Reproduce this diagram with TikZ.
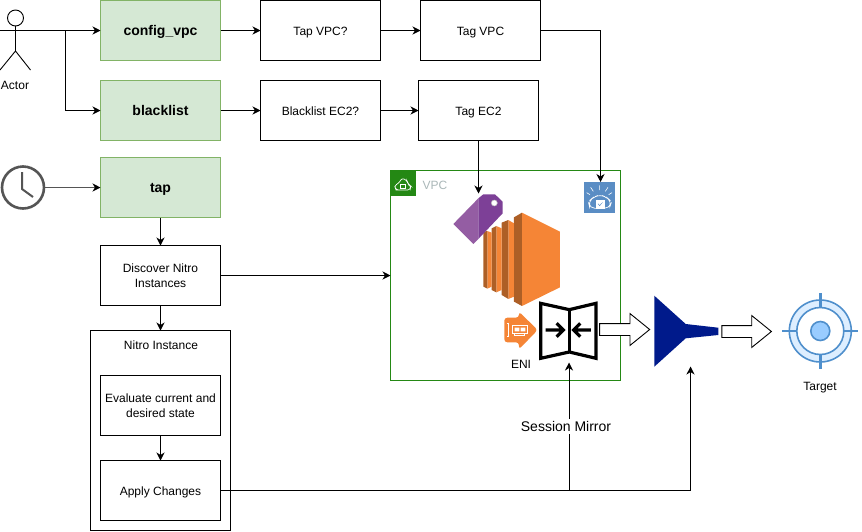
\documentclass[tikz,border=0pt]{standalone}
\usepackage{fontspec}
\setmainfont{Liberation Sans}
\usepackage{xcolor}
\usetikzlibrary{arrows.meta,positioning,shapes.arrows}
\definecolor{Leaf}{HTML}{D5E8D4}
\definecolor{LeafLine}{HTML}{82B366}
\definecolor{VpcGreen}{HTML}{248814}
\definecolor{VpcGray}{HTML}{AAB7B8}
\definecolor{Ec2Light}{HTML}{F58536}
\definecolor{Ec2Dark}{HTML}{AD5F26}
\definecolor{TagLight}{HTML}{945DA3}
\definecolor{TagDark}{HTML}{7D4097}
\definecolor{LockBlue}{HTML}{5A8DC4}
\definecolor{Navy}{HTML}{001A8B}
\definecolor{RingLine}{HTML}{4F8FCC}
\definecolor{RingFill}{HTML}{DDEEFF}
\definecolor{RingCore}{HTML}{99CCFF}
\definecolor{ClockGray}{HTML}{555555}

\begin{document}
\begin{tikzpicture}[
  x=1pt,y=-1pt,
  node distance=20pt and 40pt,
  every node/.style={font=\fontsize{12}{15}\selectfont},
  lambda/.style={draw=LeafLine,line width=0.9pt,fill=Leaf,minimum width=120pt,minimum height=60pt,outer sep=0pt,
    text height=13pt,text depth=2.6pt,font=\fontsize{14}{17}\selectfont\bfseries},
  action/.style={draw=black,line width=0.9pt,fill=white,minimum width=120pt,minimum height=60pt,outer sep=0pt,align=center},
  oneline/.style={action,text height=11.4pt,text depth=2.4pt},
  spot/.style={inner sep=0pt,outer sep=0pt},
  arrow/.style={-{Stealth[length=8pt,width=8pt,inset=2.5pt]},draw=black,line width=0.9pt},
  hollow/.style={single arrow,draw=black,line width=0.9pt,fill=white,inner sep=5.5pt,outer sep=0pt,
    single arrow head extend=10pt,single arrow tip angle=78}
]
\useasboundingbox (0,0) rectangle (862,531);
% boxes
\node[lambda] at (160.5,30.5) (config_vpc) {config\_vpc};
\node[lambda] at (160.5,110.5) (blacklist) {blacklist};
\node[lambda] at (160.5,187.5) (tap) {tap};
\node[oneline,right=of config_vpc] (tap_vpc) {Tap VPC?};
\node[oneline,right=of tap_vpc] (tag_vpc) {Tag VPC};
\node[oneline,right=of blacklist] (blacklist_ec2) {Blacklist EC2?};
\node[oneline,right=38pt of blacklist_ec2] (tag_ec2) {Tag EC2};
\node[action,below=28pt of tap] (discover) {Discover Nitro\\Instances};
\node[draw=black,line width=0.9pt,fill=white,minimum width=140pt,minimum height=200pt,outer sep=0pt] at (160.5,430.5) (nitro) {};
\node[spot] at (161,345) (nitro_title) {Nitro Instance};
\node[action] at (160.5,405.5) (evaluate) {Evaluate current and\\desired state};
\node[oneline,below=25pt of evaluate] (apply) {Apply Changes};
% vpc
\node[draw=VpcGreen,line width=0.9pt,minimum width=230pt,minimum height=210pt,outer sep=0pt] at (505.5,275.5) (vpc) {};
\fill[VpcGreen] (390,170) rectangle (415.5,196);
\node[spot,text=VpcGray] at (435,185) (vpc_title) {VPC};
\draw[white,line width=0.7pt,rounded corners=2.5pt] (398,190) -- (396,190) -- (394.5,185.5) -- (398.5,183.5) -- (402,178) -- (407,180.5) -- (408,184) -- (411,186) -- (410,190) -- cycle;
\draw[white,line width=0.6pt] (400.5,184.5) rectangle (405,188.5);
% actor
\node[spot,minimum size=60pt] at (15.5,40) (actor) {};
\draw[black,line width=0.9pt] (15.5,18) circle (8);
\draw[black,line width=0.9pt] (15.5,26) -- (15.5,51) (0,70) -- (15.5,51) -- (30.5,70);
\node[spot] at (15,85) (actor_label) {Actor};
\coordinate (actor_hand) at (0,30.5);
\coordinate (actor_fork) at (65,30.5);
% clock
\node[spot,circle,minimum size=42pt,draw=ClockGray,line width=2.6pt,fill=white] at (23,187.5) (clock) {};
\draw[ClockGray,line width=2pt] (22,172) -- (22,189) -- (33,197);
% ec2
\begin{scope}[shift={(380,160)},x=0.3333pt,y=-0.3333pt]
  \fill[Ec2Light] (426,158) -- (540,215) -- (540,382) -- (426,438) -- cycle;
  \fill[Ec2Dark] (402,172) -- (426,158) -- (426,438) -- (402,425) -- cycle;
  \fill[Ec2Light] (385,180) -- (402,190) -- (402,410) -- (385,417) -- cycle;
  \fill[Ec2Dark] (365,188) -- (385,180) -- (385,417) -- (365,405) -- cycle;
  \fill[Ec2Light] (349,198) -- (365,205) -- (365,390) -- (349,397) -- cycle;
  \fill[Ec2Dark] (335,205) -- (349,198) -- (349,397) -- (335,390) -- cycle;
  \fill[Ec2Light] (322,213) -- (335,218) -- (335,380) -- (322,386) -- cycle;
  \fill[Ec2Dark] (310,215) -- (322,213) -- (322,386) -- (310,380) -- cycle;
  % tag
  \fill[TagLight] (220,192) -- (295,115) -- (295,237) -- (280,252) -- cycle;
  \fill[TagDark] (295,115) -- (310,103) -- (345,103) -- (368,125) -- (368,160) -- (295,237) -- cycle;
  \draw[fill=white,draw=lightgray,line width=0.5pt] (343,129) circle (9);
  % eni
  \fill[Ec2Light,rounded corners=3pt] (373,473) -- (417,473) -- (417,455) -- (473,510) -- (417,568) -- (417,547) -- (373,547) -- cycle;
  \draw[white,line width=1pt] (382,492) -- (387,492) -- (387,530) -- (382,530);
  \draw[white,line width=1pt] (398,497) rectangle (442,520) (405,520) -- (405,528) -- (435,528) -- (435,520);
  \fill[white] (404,503) rectangle (418,514) (422,503) rectangle (436,514);
  % mirror
  \draw[black,fill=white,line width=3.2pt,miter limit=2] (482,430) -- (568,449) -- (648,430) -- (648,595) -- (568,576) -- (482,595) -- cycle;
  \draw[black,line width=3.2pt] (568,449) -- (568,576);
  \draw[black,line width=3.2pt] (497,510) -- (546,510) (530,490) -- (550,510) -- (530,530);
  \draw[black,line width=3.2pt] (633,510) -- (585,510) (601,490) -- (581,510) -- (601,530);
  % lock
  \fill[LockBlue] (613,67) rectangle (704,158);
  \draw[white,line width=0.7pt,rounded corners=5pt] (645,145) -- (630,145) -- (625,125) -- (640,112) -- (660,104) -- (680,112) -- (695,125) -- (688,145) -- (672,145);
  \draw[white,line width=0.6pt] (658,76) -- (658,90) (632,82) -- (640,94) (684,82) -- (676,94) (620,98) -- (630,104) (696,98) -- (686,104);
  \draw[white,fill=white] (648,120) rectangle (674,145);
  \draw[LockBlue,line width=0.5pt] (654,131) -- (659,137) -- (668,126);
  \draw[white,line width=0.7pt] (652,120) arc (180:0:9);
\end{scope}
\node[spot,minimum size=31pt] at (600.5,197.5) (lock_icon) {};
\node[spot,minimum width=50pt,minimum height=50pt] at (478.5,218.5) (tag_icon) {};
\node[spot,minimum width=58pt,minimum height=58pt] at (569,333.5) (mirror) {};
\node[spot] at (521,364.5) (eni_label) {ENI};
% funnel and target
\fill[Navy] (654.3,295.7) -- (685.7,324) -- (718.3,327.7) -- (718.3,335) -- (685.7,338.3) -- (654.3,366.7) -- cycle;
\node[spot,minimum width=64pt,minimum height=71pt] at (690.5,331) (funnel) {};
\node[hollow,minimum height=50pt,minimum width=31pt] at (621,329.5) (mirror_out) {};
\node[hollow,minimum height=49.5pt,minimum width=31pt] at (743,331.5) (funnel_out) {};
\draw[RingLine,line width=1.6pt,fill=RingFill] (820.3,331) circle (31);
\draw[RingLine,line width=1.6pt,fill=white] (820.3,331) circle (23.5);
\draw[RingLine,line width=1.6pt,fill=RingCore] (820.3,331) circle (9.5);
\draw[RingLine,line width=2.6pt] (820.3,293) -- (820.3,308) (820.3,354) -- (820.3,369) (782.3,331) -- (797,331) (843.5,331) -- (858.3,331);
\node[spot,minimum size=76pt] at (820.3,331) (target) {};
\node[spot] at (820,388) (target_label) {Target};
% connectors
\draw[arrow] (actor_hand) -- (config_vpc.west);
\draw[arrow] (actor_fork) |- (blacklist.west);
\draw[draw=ClockGray,line width=0.9pt,-{Stealth[length=8pt,width=8pt,inset=2.5pt,black]}] (clock.east) -- (tap.west);
\draw[arrow] (config_vpc) -- (tap_vpc);
\draw[arrow] (tap_vpc) -- (tag_vpc);
\draw[arrow] (blacklist) -- (blacklist_ec2);
\draw[arrow] (blacklist_ec2) -- (tag_ec2);
\draw[arrow] (tag_vpc.east) -| (lock_icon.north);
\draw[arrow] (tag_ec2) -- (tag_icon.north);
\draw[arrow] (tap) -- (discover);
\draw[arrow] (discover) -- (nitro.north -| discover);
\draw[arrow] (discover.east) -- (vpc.west);
\draw[arrow] (evaluate) -- (apply);
\draw[arrow] (apply.east) -| (funnel.south);
\coordinate (mirror_fork) at (apply.east -| mirror);
\draw[arrow] (mirror_fork) -- (mirror.south) node[pos=0.5,spot,fill=white,inner sep=2pt,xshift=-3pt,font=\fontsize{14}{17}\selectfont] (session_label) {Session Mirror};
\end{tikzpicture}
\end{document}
